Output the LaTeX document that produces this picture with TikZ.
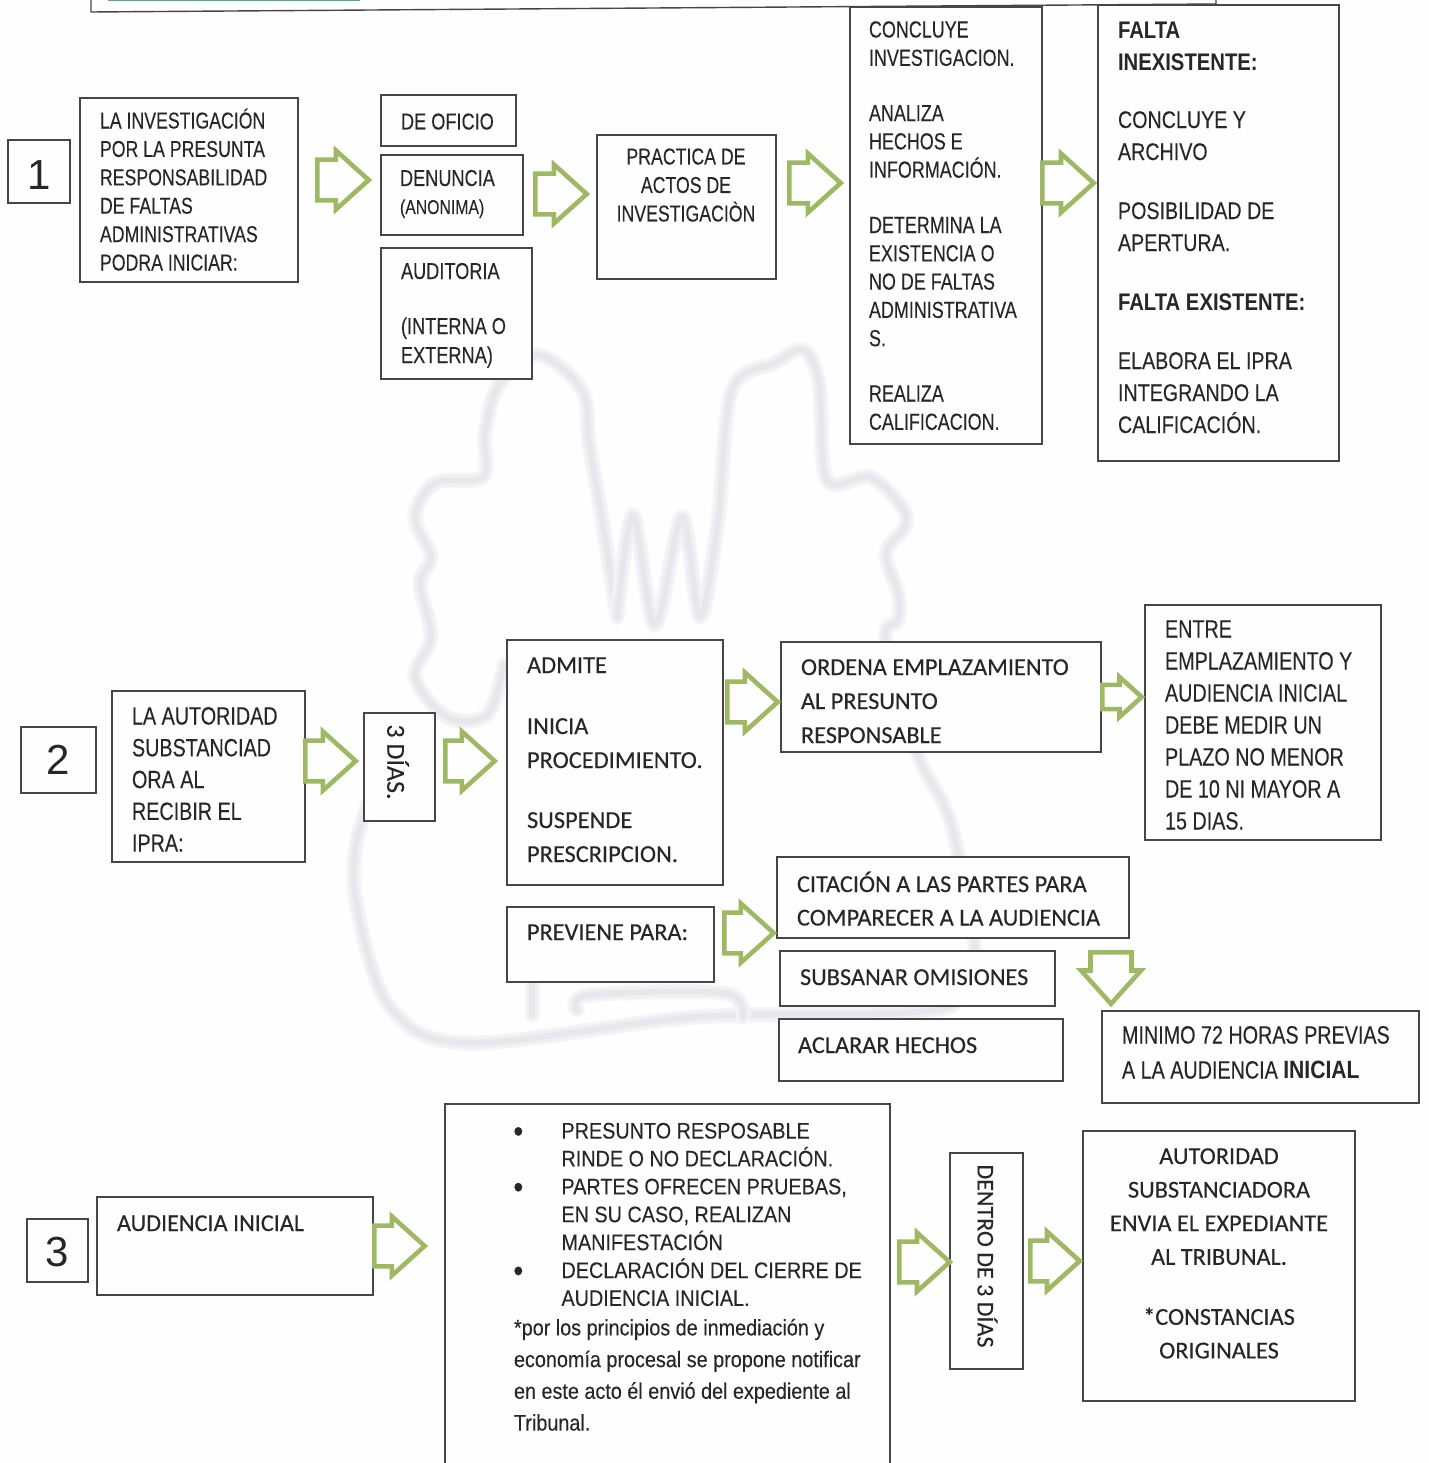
\documentclass[tikz,border=0pt]{standalone}
\usepackage{fontspec}
\usetikzlibrary{shapes.arrows}
\setmainfont{Liberation Sans}
\newfontfamily\arA[FakeStretch=0.77,FakeBold=0.15]{Liberation Sans}
\newfontfamily\arE[FakeStretch=0.79,FakeBold=0.15]{Liberation Sans}
\newfontfamily\arB[FakeStretch=0.82,FakeBold=0.15]{Liberation Sans}
\newfontfamily\arD[FakeStretch=0.845]{Liberation Sans}
\newfontfamily\arC[FakeStretch=0.88,FakeBold=0.15]{Liberation Sans}
\newfontfamily\clb[FakeBold=0.25]{Carlito}
\definecolor{ink}{HTML}{26262B}
\definecolor{edge}{HTML}{46464A}
\definecolor{paper}{HTML}{FEFEFE}
\definecolor{leaf}{HTML}{9DB964}
\definecolor{ghostA}{HTML}{F5F5F8}
\definecolor{ghostB}{HTML}{EFF0F4}
\definecolor{ghostC}{HTML}{E7E8ED}
\definecolor{teal}{HTML}{4FA99A}
\tikzset{
 box/.style={draw=edge,line width=1.4pt,fill=paper,anchor=north west,inner sep=0pt,outer sep=0pt},
 txt/.style={text=ink,inner sep=0pt,outer sep=0pt,align=left,anchor=north west},
 ctr/.style={text=ink,inner sep=0pt,outer sep=0pt,align=center,anchor=north},
 side/.style={text=ink,inner sep=0pt,outer sep=0pt,rotate=-90,anchor=center},
 hollow/.style={draw=leaf,line width=4.6pt,fill=paper,shape=single arrow,single arrow head indent=0pt,single arrow tip angle=84,inner sep=0pt,outer sep=0pt,miter limit=6,anchor=tail},
 big/.style={font=\fontsize{42}{42}\selectfont,text=ink}
}
% name x1 y1 x2 y2
\newcommand\bx[5]{\node[box,minimum width={(#4-#2)*1pt},minimum height={(#5-#3)*1pt}] (#1) at (#2,#3) {};}
\newcommand\bxn[6]{\node[box,big,anchor=center,minimum width={(#4-#2)*1pt},minimum height={(#5-#3)*1pt}] (#1) at ({(#2+#4)/2},{(#3+#5)/2}) {#6};}
% name style x baseline font size text
\newcommand\tx[7]{\node[#2,font=#5\fontsize{#6}{#6}\selectfont] (#1) at (#3,{#4-30}) {\rule{0pt}{30pt}#7};}
% name x1 x2 yc headwidth shaft
\newcommand\arw[6]{\node[hollow,minimum height={(#3-#2-5.6)*1pt},minimum width={(#5-9)*1pt},inner ysep={#6*1pt},inner xsep=0pt] (#1) at ({#2+2.3},#4) {};}
% soft watermark stroke
\newcommand\wmk[2][0.55]{%
 \draw[ghostA,line width=15pt,line cap=round,line join=round] plot[smooth,tension=#1] coordinates {#2};
 \draw[ghostB,line width=11pt,line cap=round,line join=round] plot[smooth,tension=#1] coordinates {#2};
 \draw[ghostC,line width=6pt,line cap=round,line join=round] plot[smooth,tension=#1] coordinates {#2};}
\newcommand\bul{\makebox[47.5pt][l]{\hspace{-0.6pt}\smash{\raisebox{-3.5pt}{\fontsize{32}{32}\selectfont •}}}}
\newcommand\ind{\hspace*{47.5pt}}
\begin{document}
\begin{tikzpicture}[x=1pt,y=-1pt]
\fill[paper] (0,0) rectangle (1428,1463);
\useasboundingbox (0,0) rectangle (1428,1463);
% watermark
\wmk{(504,665)(487,715)(447,717)(415,677)(431,637)(420,583)(431,557)(415,517)(435,483)(483,477)(485,433)(499,385)(538,355)(582,390)(589,443)(601,513)(617,617)}
\wmk{(617,617)(633,515)(655,625)(682,517)(700,617)(718,520)(732,390)(775,363)(803,350)(819,383)(827,480)(870,477)(902,507)(905,527)(886,553)(898,593)(898,620)(886,640)(917,753)(945,807)(958,853)(975,950)(960,1000)(903,1013)(697,1017)(468,1043)(390,1007)(357,907)(357,840)(385,760)}
\wmk{(577,1010)(590,995)(724,993)(743,1017)}
\wmk{(532,985)(532,1015)}
% banner fragment
\draw[teal,line width=2pt] (108,0.5) -- (360,0.5);
\draw[edge,line width=1.4pt] (91,-3) -- (91,12) -- (1216,4) -- (1216,-3);
% section 1
\bxn{n1}{8}{140}{70}{203}{\raisebox{-3.5pt}[30pt][0pt]{1}}
\bx{a}{80}{98}{298}{282}
\bx{b}{381}{95}{516}{146}
\bx{c}{381}{155}{523}{235}
\bx{d}{381}{248}{532}{379}
\bx{e}{597}{135}{776}{279}
\bx{f}{850}{7}{1042}{444}
\bx{g}{1098}{5}{1339}{461}
% section 2
\bxn{n2}{21}{727}{96}{793}{2}
\bx{h}{112}{691}{305}{862}
\bx{i}{364}{713}{435}{821}
\bx{j}{507}{640}{723}{885}
\bx{k}{781}{642}{1101}{752}
\bx{l}{1145}{605}{1381}{840}
\bx{m}{507}{907}{714}{982}
\bx{n}{777}{857}{1129}{938}
\bx{o}{780}{951}{1055}{1006}
\bx{p}{779}{1019}{1063}{1081}
\bx{q}{1102}{1011}{1419}{1103}
% section 3
\bxn{n3}{27}{1219}{88}{1282}{\raisebox{-1pt}[30pt][0pt]{3}}
\bx{r}{97}{1197}{373}{1295}
\bx{s}{445}{1104}{890}{1470}
\bx{t}{950}{1153}{1023}{1369}
\bx{u}{1083}{1131}{1355}{1401}
% arrows
\arw{a1}{315}{372}{180}{68}{13.5}
\arw{a2}{533}{590}{194}{68}{13.5}
\arw{a3}{787}{844}{183}{68}{13.5}
\arw{a4}{1040}{1097}{183}{68}{13.5}
\arw{a5}{303}{359}{761}{68}{13.5}
\arw{a6}{443}{498}{761}{68}{13.5}
\arw{a7}{725}{781}{702}{68}{13.5}
\arw{a8}{1100}{1145}{697}{49}{8.5}
\arw{a9}{722}{777}{933}{68}{13.5}
\node[hollow,rotate=-90,minimum height=51.5pt,minimum width=60pt,inner ysep=13pt,inner xsep=0pt] (a10) at (1111,952.3) {};
\arw{a11}{372}{428}{1246}{68}{13.5}
\arw{a12}{897}{953}{1262}{68}{13.5}
\arw{a13}{1028}{1083}{1261}{68}{13.5}
% text, section 1
\tx{ta}{txt}{100}{128.5}{\arA}{23}{LA INVESTIGACIÓN\\[5.4pt]POR LA PRESUNTA\\[5.4pt]RESPONSABILIDAD\\[5.4pt]DE FALTAS\\[5.4pt]ADMINISTRATIVAS\\[5.4pt]PODRA INICIAR:}
\tx{tb}{txt}{401}{129.5}{\arE}{23}{DE OFICIO}
\tx{tc}{txt}{400}{186}{\arE}{23}{DENUNCIA}
\tx{tc2}{txt}{400}{214}{\arE}{20}{(ANONIMA)}
\tx{td}{txt}{401}{279}{\arE}{23}{AUDITORIA\\[32pt](INTERNA O\\[6pt]EXTERNA)}
\tx{te}{ctr}{686}{164.5}{\arA}{23}{PRACTICA DE\\[5.5pt]ACTOS DE\\[5.5pt]INVESTIGACIÒN}
\tx{tf}{txt}{869}{37.5}{\arA}{23.3}{CONCLUYE\\[5pt]INVESTIGACION.\\[32pt]ANALIZA\\[5pt]HECHOS E\\[5pt]INFORMACIÓN.\\[32pt]DETERMINA LA\\[5pt]EXISTENCIA O\\[5pt]NO DE FALTAS\\[5pt]ADMINISTRATIVA\\[5pt]S.\\[32pt]REALIZA\\[5pt]CALIFICACION.}
\tx{tg}{txt}{1118}{38}{\arB}{24}{{\arD\bfseries FALTA}\\[8pt]{\arD\bfseries INEXISTENTE:}\\[34pt]CONCLUYE Y\\[8pt]ARCHIVO\\[35pt]POSIBILIDAD DE\\[8pt]APERTURA.\\[35pt]{\arD\bfseries FALTA EXISTENTE:}\\[35pt]ELABORA EL IPRA\\[8pt]INTEGRANDO LA\\[8pt]CALIFICACIÓN.}
% text, section 2
\tx{th}{txt}{132}{724.5}{\arE}{25}{LA AUTORIDAD\\[6.8pt]SUBSTANCIAD\\[6.8pt]ORA AL\\[6.8pt]RECIBIR EL\\[6.8pt]IPRA:}
\node[side,font=\clb\fontsize{26}{26}\selectfont] (ti) at (398,762) {3 DÍAS.};
\tx{tj}{txt}{527}{673}{\clb}{24.4}{ADMITE\\[36.6pt]INICIA\\[9.6pt]PROCEDIMIENTO.\\[35.6pt]SUSPENDE\\[9.6pt]PRESCRIPCION.}
\tx{tk}{txt}{801}{675}{\clb}{24.3}{ORDENA EMPLAZAMIENTO\\[9.7pt]AL PRESUNTO\\[9.7pt]RESPONSABLE}
\tx{tl}{txt}{1165}{637.5}{\arE}{25}{ENTRE\\[7pt]EMPLAZAMIENTO Y\\[7pt]AUDIENCIA INICIAL\\[7pt]DEBE MEDIR UN\\[7pt]PLAZO NO MENOR\\[7pt]DE 10 NI MAYOR A\\[7pt]15 DIAS.}
\tx{tm}{txt}{527}{940}{\clb}{24.3}{PREVIENE PARA:}
\tx{tn}{txt}{797}{892}{\clb}{24.3}{CITACIÓN A LAS PARTES PARA\\[9.2pt]COMPARECER A LA AUDIENCIA}
\tx{to}{txt}{800}{985}{\clb}{24.3}{SUBSANAR OMISIONES}
\tx{tp}{txt}{798}{1053}{\clb}{24.3}{ACLARAR HECHOS}
\tx{tq}{txt}{1122}{1043.5}{\arE}{25}{MINIMO 72 HORAS PREVIAS\\[10pt]A LA AUDIENCIA {\arD\bfseries INICIAL}}
% text, section 3
\tx{tr}{txt}{117}{1231}{\clb}{24.2}{AUDIENCIA INICIAL}
\tx{ts}{txt}{514}{1138.5}{\arC}{22.5}{\bul PRESUNTO RESPOSABLE\\[5.4pt]\ind RINDE O NO DECLARACIÓN.\\[5.4pt]\bul PARTES OFRECEN PRUEBAS,\\[5.4pt]\ind EN SU CASO, REALIZAN\\[5.4pt]\ind MANIFESTACIÓN\\[5.4pt]\bul DECLARACIÓN DEL CIERRE DE\\[5.4pt]\ind AUDIENCIA INICIAL.\\[7pt]*por los principios de inmediación y\\[9.2pt]economía procesal se propone notificar\\[9.2pt]en este acto él envió del expediente al\\[9.2pt]Tribunal.}
\node[side,font=\clb\fontsize{24}{24}\selectfont] (tt) at (987.5,1256) {DENTRO DE 3 DÍAS};
\tx{tu}{ctr}{1219}{1164}{\clb}{24.3}{AUTORIDAD\\[9.3pt]SUBSTANCIADORA\\[9.3pt]ENVIA EL EXPEDIANTE\\[9.3pt]AL TRIBUNAL.\\[35.7pt]*CONSTANCIAS\\[9.3pt]ORIGINALES}
\end{tikzpicture}
\end{document}
